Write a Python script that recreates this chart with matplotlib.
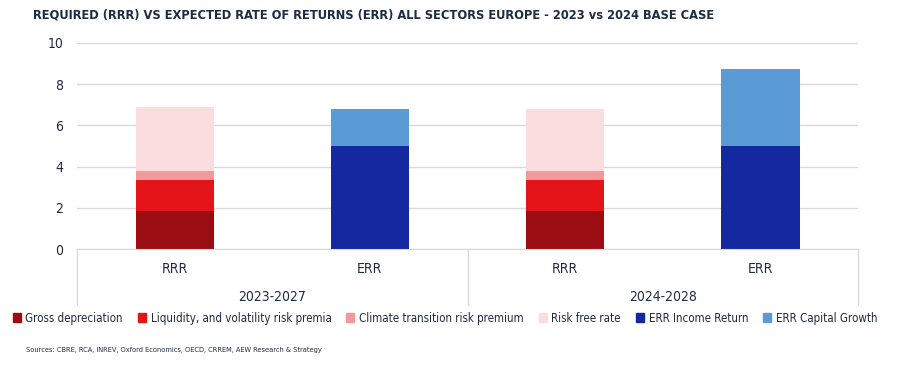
import matplotlib
matplotlib.use('Agg')
import matplotlib.pyplot as plt
from matplotlib.patches import Patch

# Data
bars = ["RRR", "ERR", "RRR", "ERR"]
periods = ["2023-2027", "2024-2028"]
gross_dep = [1.85, 0, 1.85, 0]
liquidity = [1.5, 0, 1.5, 0]
climate = [0.45, 0, 0.45, 0]
risk_free = [3.1, 0, 3.0, 0]
err_income = [0, 5.0, 0, 5.0]
err_growth = [0, 1.8, 0, 3.75]

series = [
    ("Gross depreciation", gross_dep, "#9b0d12"),
    ("Liquidity, and volatility risk premia", liquidity, "#e31519"),
    ("Climate transition risk premium", climate, "#f29a9b"),
    ("Risk free rate", risk_free, "#fbdddf"),
    ("ERR Income Return", err_income, "#1428a0"),
    ("ERR Capital Growth", err_growth, "#5b9bd5"),
]

navy = "#1f2a44"
plt.rcParams['font.family'] = ['DejaVu Sans']
plt.rcParams['font.stretch'] = 'condensed'

fig = plt.figure(figsize=(9.09, 3.67), dpi=100)
ax = fig.add_axes([0.0847, 0.3215, 0.8593, 0.5615])

x = list(range(len(bars)))
bottom = [0.0] * len(bars)
for name, vals, col in series:
    ax.bar(x, vals, width=0.4, bottom=bottom, color=col, zorder=2)
    bottom = [b + v for b, v in zip(bottom, vals)]

ax.set_xlim(-0.5, 3.5)
ax.set_ylim(0, 10)
ax.set_yticks([0, 2, 4, 6, 8, 10])
ax.yaxis.grid(True, color="#d9d9d9", linewidth=1, zorder=0)
for s in ["top", "right", "left"]:
    ax.spines[s].set_visible(False)
ax.spines["bottom"].set_color("#d9d9d9")
ax.tick_params(axis="y", length=0, pad=10, labelsize=10, labelcolor=navy)
ax.set_xticks(x)
ax.set_xticklabels(bars, fontsize=10, color=navy)
ax.tick_params(axis="x", length=0, pad=9)

# group labels and separators
trans = ax.get_xaxis_transform()
for i, p in enumerate(periods):
    ax.text(2 * i + 0.5, -0.235, p, transform=trans, ha="center", va="center",
            fontsize=10, color=navy)
for sx in [-0.5, 1.5, 3.5]:
    ax.plot([sx, sx], [0, -0.27], transform=trans, color="#d9d9d9",
            linewidth=1, clip_on=False)

handles = [Patch(color=c, label=n) for n, _, c in series]
fig.legend(handles=handles, loc="center", bbox_to_anchor=(0.4895, 0.133), ncol=6,
           frameon=False, fontsize=8.3, handlelength=0.7, handleheight=0.9,
           handletextpad=0.4, columnspacing=1.3, labelcolor=navy,
           borderpad=0, borderaxespad=0)

fig.text(0.036, 0.959, "REQUIRED (RRR) VS EXPECTED RATE OF RETURNS (ERR) ALL SECTORS EUROPE - 2023 vs 2024 BASE CASE",
         fontsize=9.2, fontweight="bold", color=navy, va="center")
fig.text(0.029, 0.046, "Sources: CBRE, RCA, INREV, Oxford Economics, OECD, CRREM, AEW Research & Strategy",
         fontsize=5.3, color=navy, va="center")

fig.savefig("out.png", dpi=100)
